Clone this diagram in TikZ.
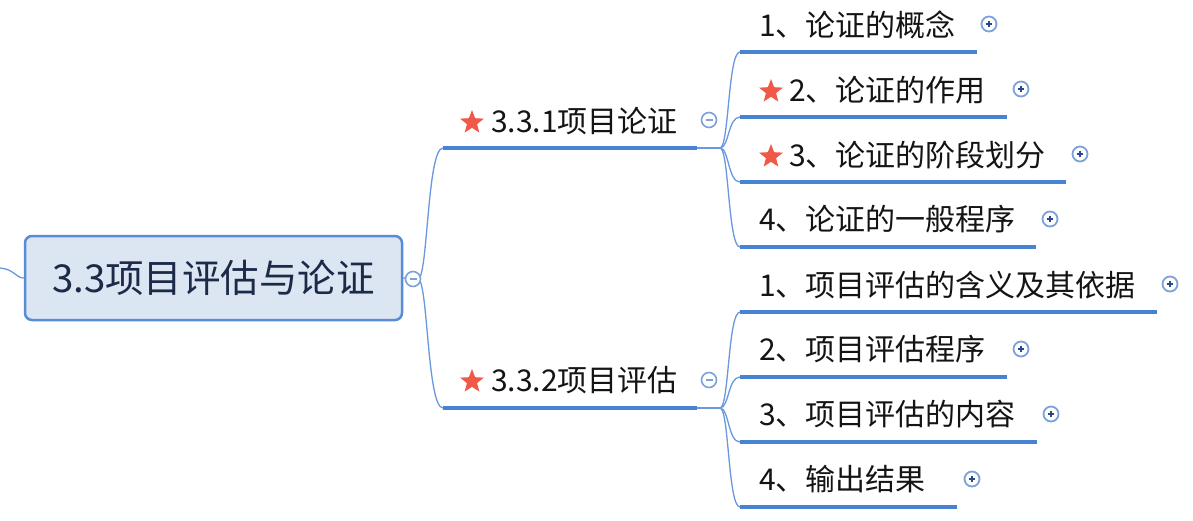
\documentclass[tikz,border=0pt]{standalone}
\usepackage{fontspec}
\setmainfont{Noto Sans CJK SC}
\usetikzlibrary{shapes.geometric}
\definecolor{lineblue}{RGB}{70,132,210}
\definecolor{thinblue}{RGB}{105,152,222}
\definecolor{rootfill}{RGB}{220,230,243}
\definecolor{rootborder}{RGB}{88,140,212}
\definecolor{starred}{RGB}{240,88,72}
\definecolor{txt}{RGB}{20,20,20}
\definecolor{roottxt}{RGB}{28,42,72}
\definecolor{markblue}{RGB}{125,162,218}
\definecolor{plusblue}{RGB}{40,72,135}
\tikzset{
  rootbox/.style={draw=rootborder, line width=2.5pt, fill=rootfill, rounded corners=7pt,
    minimum width=377pt, minimum height=84pt, inner sep=0pt,
    font=\fontsize{38.5}{46}\selectfont, text=roottxt},
  topic/.style={anchor=west, inner sep=0pt, font=\fontsize{30}{36}\selectfont, text=txt},
  starmark/.style={star, star points=5, star point ratio=2.35, fill=starred, draw=none,
    minimum size=25pt, inner sep=0pt},
  underline/.style={draw=lineblue, line width=4pt},
  link/.style={draw=thinblue, line width=1.3pt},
  collapse/.style={circle, draw=markblue, line width=1.6pt, fill=white, minimum size=15pt, inner sep=0pt,
    path picture={\draw[markblue, line width=1.6pt]
      ([xshift=-3.5pt]path picture bounding box.center) -- ([xshift=3.5pt]path picture bounding box.center);}},
  expand/.style={circle, draw=markblue, line width=1.8pt, fill=white, minimum size=15pt, inner sep=0pt,
    path picture={\draw[plusblue, line width=1.4pt]
      ([xshift=-3.4pt]path picture bounding box.center) -- ([xshift=3.4pt]path picture bounding box.center)
      ([yshift=-3.4pt]path picture bounding box.center) -- ([yshift=3.4pt]path picture bounding box.center);}}
}
\begin{document}
\begin{tikzpicture}[x=1pt,y=-1pt]
\useasboundingbox[fill=white] (0,0) rectangle (1193,520);

% root
\coordinate (lft) at (0,268);
\node[rootbox] (root) at (213.5,278) {3.3项目评估与论证};
\draw[link] (lft) .. controls (14,269) and (16,278) .. (root.west);
\coordinate (rj) at (418,279);

% branch underline coordinates
\coordinate (b1l) at (443,148); \coordinate (b1r) at (697,148); \coordinate (b1j) at (720,148);
\coordinate (b2l) at (443,408); \coordinate (b2r) at (697,408); \coordinate (b2j) at (720,408);

\draw[link] (root.east) -- (rj);
\draw[link] (rj) .. controls (428,279) and (427,148) .. (b1l);
\draw[link] (rj) .. controls (428,279) and (427,408) .. (b2l);
\draw[underline] (b1l) -- (b1r);
\draw[underline] (b2l) -- (b2r);
\draw[link] (b1r) -- (b1j);
\draw[link] (b2r) -- (b2j);

% children underline coordinates
\coordinate (c11l) at (740,52);  \coordinate (c11r) at (977,52);
\coordinate (c12l) at (740,117); \coordinate (c12r) at (1007,117);
\coordinate (c13l) at (740,182); \coordinate (c13r) at (1066,182);
\coordinate (c14l) at (740,247); \coordinate (c14r) at (1036,247);
\coordinate (c21l) at (740,312); \coordinate (c21r) at (1157,312);
\coordinate (c22l) at (740,377); \coordinate (c22r) at (1007,377);
\coordinate (c23l) at (740,442); \coordinate (c23r) at (1037,442);
\coordinate (c24l) at (740,507); \coordinate (c24r) at (957,507);

\draw[link] (b1j) .. controls (729,148) and (728,52) .. (c11l);
\draw[link] (b1j) .. controls (729,148) and (728,117) .. (c12l);
\draw[link] (b1j) .. controls (729,148) and (728,182) .. (c13l);
\draw[link] (b1j) .. controls (729,148) and (728,247) .. (c14l);
\draw[link] (b2j) .. controls (729,408) and (728,312) .. (c21l);
\draw[link] (b2j) .. controls (729,408) and (728,377) .. (c22l);
\draw[link] (b2j) .. controls (729,408) and (728,442) .. (c23l);
\draw[link] (b2j) .. controls (729,408) and (728,507) .. (c24l);

\foreach \c in {c11,c12,c13,c14,c21,c22,c23,c24}{
  \draw[underline] (\c l) -- (\c r);
}

% branch texts
\node[starmark] (s1) at (472,122.5) {};
\node[topic] (b1) at (491,121) {3.3.1项目论证};
\node[starmark] (s2) at (472,381.5) {};
\node[topic] (b2) at (491,380) {3.3.2项目评估};

% child texts
\node[topic] (c11) at (759,25) {1、论证的概念};
\node[starmark] (s12) at (771,91.5) {};
\node[topic] (c12) at (789,90) {2、论证的作用};
\node[starmark] (s13) at (771,156.5) {};
\node[topic] (c13) at (789,155) {3、论证的阶段划分};
\node[topic] (c14) at (759,219) {4、论证的一般程序};
\node[topic] (c21) at (759,285) {1、项目评估的含义及其依据};
\node[topic] (c22) at (759,349) {2、项目评估程序};
\node[topic] (c23) at (759,414) {3、项目评估的内容};
\node[topic] (c24) at (759,479) {4、输出结果};

% collapse markers
\node[collapse] (m0) at (413,279) {};
\node[collapse] (m1) at (709,120) {};
\node[collapse] (m2) at (709,380) {};

% expand markers
\node[expand] (e11) at (989,24) {};
\node[expand] (e12) at (1021,89) {};
\node[expand] (e13) at (1080,154) {};
\node[expand] (e14) at (1050,219) {};
\node[expand] (e21) at (1170,284) {};
\node[expand] (e22) at (1021,349) {};
\node[expand] (e23) at (1051,414) {};
\node[expand] (e24) at (972,479) {};
\end{tikzpicture}
\end{document}
